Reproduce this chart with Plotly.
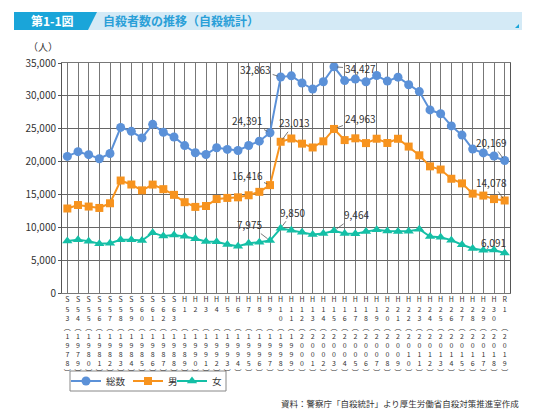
import plotly.graph_objects as go

# 年（元号）と西暦
era = ["S53", "S54", "S55", "S56", "S57", "S58", "S59", "S60", "S61", "S62", "S63",
       "H1", "H2", "H3", "H4", "H5", "H6", "H7", "H8", "H9", "H10",
       "H11", "H12", "H13", "H14", "H15", "H16", "H17", "H18", "H19", "H20",
       "H21", "H22", "H23", "H24", "H25", "H26", "H27", "H28", "H29", "H30", "R1"]
years = list(range(1978, 2020))

# 総数・男・女 (人)
total = [20788, 21503, 21048, 20434, 21228, 25202, 24596, 23599, 25667, 24460,
         23742, 22436, 21346, 21084, 22104, 21851, 21679, 22445, 23104, 24391,
         32863, 33048, 31957, 31042, 32143, 34427, 32325, 32552, 32155, 33093,
         32249, 32845, 31690, 30651, 27858, 27283, 25427, 24025, 21897, 21321,
         20840, 20169]
male = [12859, 13386, 13155, 12942, 13654, 17116, 16508, 15624, 16497, 15802,
        14934, 13818, 13102, 13242, 14296, 14468, 14560, 14874, 15393, 16416,
        23013, 23512, 22727, 22144, 23080, 24963, 23272, 23540, 22813, 23478,
        22831, 23472, 22283, 20955, 19273, 18787, 17386, 16681, 15121, 14826,
        14290, 14078]
female = [7929, 8117, 7893, 7492, 7574, 8086, 8088, 7975, 9170, 8658,
          8808, 8618, 8244, 7842, 7808, 7383, 7119, 7571, 7711, 7975,
          9850, 9536, 9230, 8898, 9063, 9464, 9053, 9012, 9342, 9615,
          9418, 9373, 9407, 9696, 8585, 8496, 8041, 7344, 6776, 6495,
          6550, 6091]


# 縦書きの軸ラベル
def vlabel(e, y):
    chars = list(e) + [" "] * (3 - len(e))
    chars += ["︵"] + list(str(y)) + ["︶"]
    return "<br>".join(chars)


cats = [vlabel(e, y) for e, y in zip(era, years)]

FONT = "Noto Sans CJK JP"
BLUE = "#5b91d8"
ORANGE = "#f7931e"
TEAL = "#14bfa6"

fig = go.Figure()
fig.add_trace(go.Scatter(x=cats, y=total, name="総数", mode="lines+markers", legend="legend",
                         line=dict(color=BLUE, width=2),
                         marker=dict(symbol="circle", size=9, color=BLUE)))
fig.add_trace(go.Scatter(x=cats, y=male, name="男", mode="lines+markers", legend="legend2",
                         line=dict(color=ORANGE, width=2),
                         marker=dict(symbol="square", size=8, color=ORANGE)))
fig.add_trace(go.Scatter(x=cats, y=female, name="女", mode="lines+markers", legend="legend3",
                         line=dict(color=TEAL, width=2),
                         marker=dict(symbol="triangle-up", size=9, color=TEAL)))

# plot area in pixels: x 62..510, y 63..293
L, R, T, B = 62, 510, 63, 293


def px(x):
    return (x - L) / (R - L)


def py(y):
    return (B - y) / (B - T)


# 数値ラベル (series, index, ax, ay)
labels = [(total, 19, -23, -12), (total, 20, -25, -8), (total, 25, 26, 2), (total, 41, -13, -18),
          (male, 19, -23, -10), (male, 20, 14, -19), (male, 25, 26, -10), (male, 41, -13, -18),
          (female, 19, -21, -16), (female, 20, 12, -16), (female, 25, 22, -16), (female, 41, -11, -10)]
annotations = []
for s, i, ax, ay in labels:
    annotations.append(dict(x=cats[i], y=s[i], text=f"{s[i]:,}", showarrow=True,
                            arrowhead=0, arrowwidth=0.8, arrowcolor="#555",
                            ax=ax, ay=ay, standoff=3,
                            font=dict(family=FONT, size=10, color="#333")))

annotations += [
    dict(x=px(52), y=py(21), xref="paper", yref="paper", text="<b>第1-1図</b>",
         xanchor="center", yanchor="middle", showarrow=False,
         font=dict(family=FONT, size=12, color="white")),
    dict(x=px(101), y=py(21), xref="paper", yref="paper", xanchor="left", yanchor="middle",
         text="<b>自殺者数の推移（自殺統計）</b>", showarrow=False,
         font=dict(family=FONT, size=12, color="#2a9fd8")),
    dict(x=px(43), y=py(47), xref="paper", yref="paper", text="（人）",
         xanchor="center", yanchor="middle", showarrow=False,
         font=dict(family=FONT, size=10, color="#333")),
    dict(x=px(521), y=py(403), xref="paper", yref="paper", xanchor="right", yanchor="middle",
         text="資料：警察庁「自殺統計」より厚生労働省自殺対策推進室作成",
         showarrow=False, font=dict(family=FONT, size=8.5, color="#333")),
]

shapes = [
    dict(type="rect", xref="paper", yref="paper", x0=px(14), x1=px(522),
         y0=py(30), y1=py(12), fillcolor="#d4eaf6", line=dict(width=0), layer="below"),
    dict(type="path", xref="paper", yref="paper",
         path=f"M {px(14)} {py(12)} L {px(97)} {py(12)} L {px(88)} {py(30)} L {px(14)} {py(30)} Z",
         fillcolor="#1aa5d9", line=dict(width=0), layer="below"),
    dict(type="path", xref="paper", yref="paper",
         path=f"M {px(515)} {py(28)} L {px(519)} {py(28)} L {px(519)} {py(24)} Z",
         fillcolor="#1aa5d9", line=dict(width=0)),
    # 凡例の枠
    dict(type="rect", xref="paper", yref="paper", x0=px(70), x1=px(226),
         y0=py(391), y1=py(371), line=dict(color="#888", width=1), layer="below"),
]


def leg(x):
    return dict(orientation="h", x=px(x), y=py(381), xanchor="left", yanchor="middle",
                borderwidth=0, bgcolor="rgba(0,0,0,0)", itemwidth=30,
                font=dict(family=FONT, size=9.5, color="#333"))


fig.update_layout(
    template="none",
    width=541, height=412,
    margin=dict(l=L, r=541 - R, t=T, b=412 - B, autoexpand=False),
    paper_bgcolor="white", plot_bgcolor="white",
    font=dict(family=FONT, size=10, color="#333"),
    showlegend=True,
    legend=leg(66), legend2=leg(128), legend3=leg(172),
    annotations=annotations,
    shapes=shapes,
    xaxis=dict(type="category", categoryorder="array", categoryarray=cats,
               range=[-0.5, len(cats) - 0.5], showgrid=True, gridcolor="#777", gridwidth=1,
               showline=True, linecolor="#777", mirror=True, ticks="", automargin=False,
               tickangle=0, tickfont=dict(family=FONT, size=7, color="#333")),
    yaxis=dict(range=[0, 35000], dtick=5000, tickformat=",", showgrid=True,
               gridcolor="#666", gridwidth=1, showline=True, linecolor="#555",
               mirror=True, ticks="outside", ticklen=3, tickcolor="#555", automargin=False,
               zeroline=False, tickfont=dict(family=FONT, size=10, color="#333")),
)

fig.write_html("out.html", config={"displayModeBar": False},
               post_script="document.body.style.margin='0';")
